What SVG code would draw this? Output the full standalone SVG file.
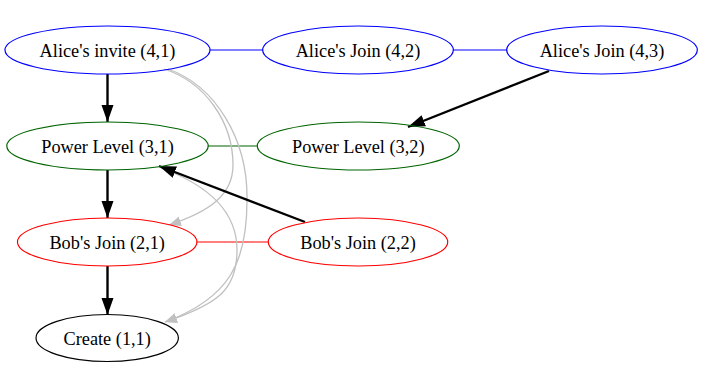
<svg xmlns="http://www.w3.org/2000/svg" width="724" height="368" viewBox="0 0 724 368">
<style>
  text { font-family: "Liberation Serif", "Times New Roman", serif; font-size: 18.3px; text-anchor: middle; fill: #000; }
  ellipse { fill: none; stroke-width: 1.2; }
  .blue { stroke: #0000ff; }
  .green { stroke: #006400; }
  .red { stroke: #ff0000; }
  .black { stroke: #000000; }
  .link { fill: none; stroke-width: 1.2; }
  .prev { fill: none; stroke: #000; stroke-width: 2.4; marker-end: url(#arrowBlack); }
  .auth { fill: none; stroke: #c0c0c0; stroke-width: 1.3; marker-end: url(#arrowGrey); }
</style>
<defs>
  <marker id="arrowBlack" markerUnits="userSpaceOnUse" markerWidth="20" markerHeight="14" refX="17" refY="6.5" orient="auto" viewBox="0 0 20 14">
    <path d="M0,0.5 L17,6.5 L0,12.5 z" fill="#000"/>
  </marker>
  <marker id="arrowGrey" markerUnits="userSpaceOnUse" markerWidth="14" markerHeight="12" refX="12" refY="5" orient="auto" viewBox="0 0 14 12">
    <path d="M0,0 L12,5 L0,10 z" fill="#c0c0c0"/>
  </marker>
</defs>
<g id="connectors">
  <line class="link blue" x1="210" y1="50" x2="263" y2="50"/>
  <line class="link blue" x1="453" y1="50" x2="507" y2="50"/>
  <line class="link green" x1="208" y1="146" x2="257" y2="146"/>
  <line class="link red" x1="197" y1="242" x2="268" y2="242"/>
  <path class="auth" d="M164,69 C205,82 233,122 233,165 C233,196 208,212 169,225"/>
  <path class="auth" d="M168,69 C216,86 248,140 247,200 C247,262 230,298 165,322"/>
  <path class="auth" d="M161,168 C205,184 237,210 237,250 C237,290 218,304 165,322"/>
  <line class="prev" x1="107.5" y1="74" x2="107.5" y2="122"/>
  <line class="prev" x1="107.5" y1="170" x2="107.5" y2="218"/>
  <line class="prev" x1="107.5" y1="266" x2="107.5" y2="315"/>
  <line class="prev" x1="549" y1="71" x2="408" y2="127"/>
  <line class="prev" x1="305" y1="222" x2="159" y2="166"/>
</g>
<g id="alice-invite-4-1">
  <ellipse class="blue" cx="107.5" cy="50" rx="102.5" ry="24"/>
  <text x="107.5" y="56.5">Alice's invite (4,1)</text>
</g>
<g id="alice-join-4-2">
  <ellipse class="blue" cx="358" cy="50" rx="95.3" ry="24"/>
  <text x="358" y="56.5">Alice's Join (4,2)</text>
</g>
<g id="alice-join-4-3">
  <ellipse class="blue" cx="602" cy="50" rx="95.3" ry="24"/>
  <text x="602" y="56.5">Alice's Join (4,3)</text>
</g>
<g id="power-level-3-1">
  <ellipse class="green" cx="107.5" cy="146" rx="100.7" ry="24"/>
  <text x="107.5" y="152.5">Power Level (3,1)</text>
</g>
<g id="power-level-3-2">
  <ellipse class="green" cx="358.3" cy="146" rx="101" ry="24"/>
  <text x="358.3" y="152.5">Power Level (3,2)</text>
</g>
<g id="bob-join-2-1">
  <ellipse class="red" cx="107.2" cy="242" rx="89.7" ry="24"/>
  <text x="107.2" y="248.5">Bob's Join (2,1)</text>
</g>
<g id="bob-join-2-2">
  <ellipse class="red" cx="358" cy="242" rx="89.7" ry="24"/>
  <text x="358" y="248.5">Bob's Join (2,2)</text>
</g>
<g id="create-1-1">
  <ellipse class="black" cx="107.2" cy="338" rx="71.2" ry="23.5"/>
  <text x="107.2" y="344.5">Create (1,1)</text>
</g>
</svg>
